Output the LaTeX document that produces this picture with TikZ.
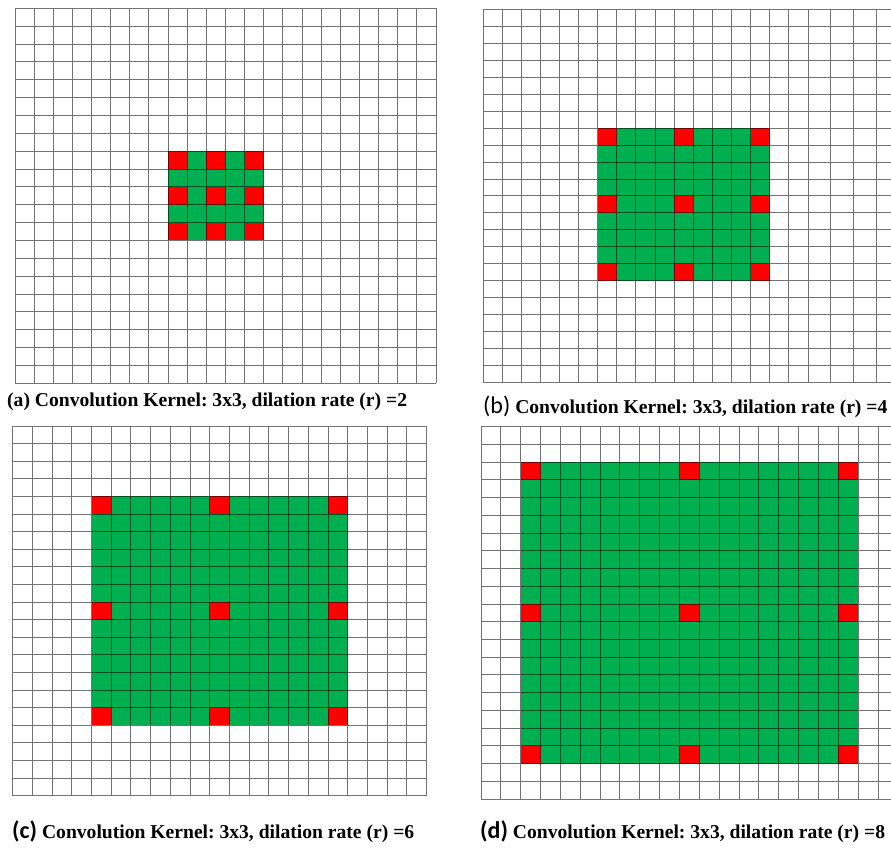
\documentclass[tikz,border=0pt]{standalone}
\usepackage{fontspec}
\setmainfont{Liberation Serif}
\setsansfont{Carlito}
\definecolor{kernGreen}{HTML}{00B050}
\definecolor{tapRed}{HTML}{FF0000}
\newcommand{\panelTag}{\fontsize{24}{26}\selectfont\sffamily}
\frenchspacing

\begin{document}
\begin{tikzpicture}[x=1pt, y=-1pt,
  gridline/.style={black, opacity=0.55, line width=1pt},
  kernel/.style={fill=kernGreen},
  tap/.style={fill=tapRed},
  caption/.style={anchor=base west, inner sep=0pt,
    font=\fontsize{19.6}{22}\selectfont\bfseries}]
  \useasboundingbox (0,0) rectangle (891,851);

  % (a) dilation 2
  \begin{scope}[shift={(15pt,-8.3pt)}, x=19.14pt, y=-17.86pt]
    \fill[kernel] (8,8) rectangle (13,13);
    \foreach \i in {0,2,4} \foreach \j in {0,2,4}
      \fill[tap] (8+\i,8+\j) rectangle ++(1,1);
    \draw[gridline] \foreach \i in {0,...,22} {(\i,0) -- (\i,21)}
      \foreach \j in {0,...,21} {(0,\j) -- (22,\j)};
  \end{scope}

  % (b) dilation 4
  \begin{scope}[shift={(483pt,-9.3pt)}, x=19.12pt, y=-16.97pt]
    \fill[kernel] (6,7) rectangle (15,16);
    \foreach \i in {0,4,8} \foreach \j in {0,4,8}
      \fill[tap] (6+\i,7+\j) rectangle ++(1,1);
    \draw[gridline] \foreach \i in {0,...,17,18.2,19.4,20.6} {(\i,0) -- (\i,22)}
      \foreach \j in {0,...,22} {(0,\j) -- (21.4,\j)};
  \end{scope}

  % (c) dilation 6
  \begin{scope}[shift={(12.7pt,-426pt)}, x=19.71pt, y=-17.6pt]
    \fill[kernel] (4,4) rectangle (17,17);
    \foreach \i in {0,6,12} \foreach \j in {0,6,12}
      \fill[tap] (4+\i,4+\j) rectangle ++(1,1);
    \draw[gridline] \foreach \i in {0,...,21} {(\i,0) -- (\i,21)}
      \foreach \j in {0,...,21} {(0,\j) -- (21,\j)};
  \end{scope}

  % (d) dilation 8
  \begin{scope}[shift={(481pt,-426.7pt)}, x=19.85pt, y=-17.73pt]
    \fill[kernel] (2,2) rectangle (19,19);
    \foreach \i in {0,8,16} \foreach \j in {0,8,16}
      \fill[tap] (2+\i,2+\j) rectangle ++(1,1);
    \draw[gridline] \foreach \i in {0,...,20} {(\i,0) -- (\i,21)}
      \foreach \j in {0,...,21} {(0,\j) -- (20.7,\j)};
  \end{scope}

  \node[caption] (capA) at (7,406)
    {(a) Convolution Kernel: 3x3, dilation rate (r) =2};
  \node[caption] (capB) at (483,413)
    {{\panelTag\mdseries (b)} Convolution Kernel: 3x3, dilation rate (r) =4};
  \node[caption] (capC) at (12,838)
    {{\panelTag (c)} Convolution Kernel: 3x3, dilation rate (r) =6};
  \node[caption] (capD) at (480,838)
    {{\panelTag (d)} Convolution Kernel: 3x3, dilation rate (r) =8};
\end{tikzpicture}
\end{document}
